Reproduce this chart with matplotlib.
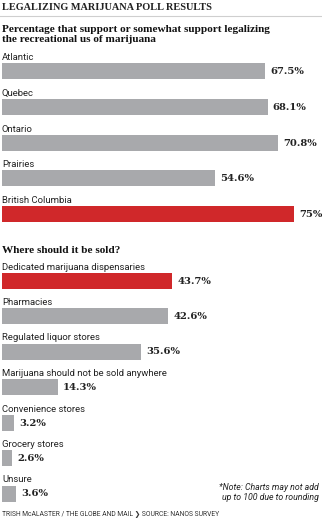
import matplotlib
matplotlib.use("Agg")
import matplotlib.pyplot as plt
from matplotlib.lines import Line2D

# 画布尺寸（像素）
W, H = 322, 518
DPI = 100

# 第一部分：各地区支持率
regions = ["Atlantic", "Quebec", "Ontario", "Prairies", "British Columbia"]
support = [67.5, 68.1, 70.8, 54.6, 75.0]
support_labels = ["67.5%", "68.1%", "70.8%", "54.6%", "75%"]
support_highlight = "British Columbia"

# 第二部分：应在哪里销售
outlets = ["Dedicated marijuana dispensaries", "Pharmacies", "Regulated liquor stores",
           "Marijuana should not be sold anywhere", "Convenience stores",
           "Grocery stores", "Unsure"]
sold = [43.7, 42.6, 35.6, 14.3, 3.2, 2.6, 3.6]
sold_labels = ["43.7%", "42.6%", "35.6%", "14.3%", "3.2%", "2.6%", "3.6%"]
sold_highlight = "Dedicated marijuana dispensaries"

GRAY = "#a8a9ac"
RED = "#d0282a"
PX_PER_PCT = 3.9
SANS = "Roboto"
SERIF = "Liberation Serif"


def fy(px):
    return 1 - px / H


def draw_section(ax, names, values, labels, highlight, row_px):
    n = len(names)
    colors = [RED if name == highlight else GRAY for name in names]
    ax.barh(range(n), values, height=16 / row_px, color=colors, linewidth=0)
    for i, (name, v, lab) in enumerate(zip(names, values, labels)):
        # 类别名在柱子上方
        ax.text(0, i - 8 / row_px - 3 / row_px, name, va="baseline", ha="left",
                fontsize=6.8, family=SANS, color="#222222")
        # 数值在柱子右侧
        ax.text(v + 5 / PX_PER_PCT, i + 0.5 / row_px, lab, va="center", ha="left",
                fontsize=7.2, family="DejaVu Serif", weight="bold", color="#222222")
    ax.set_xlim(0, 318 / PX_PER_PCT)
    ax.set_ylim(n - 0.5, -0.75)
    ax.axis("off")


fig = plt.figure(figsize=(W / DPI, H / DPI), dpi=DPI)

fig.text(2 / W, fy(10), "LEGALIZING MARIJUANA POLL RESULTS", va="baseline",
         fontsize=7.35, family=SERIF, weight="bold", color="#222222")
fig.add_artist(Line2D([0, 1], [fy(16), fy(16)], color="#cfcfcf", linewidth=0.8))

fig.text(2 / W, fy(31.5), "Percentage that support or somewhat support legalizing",
         va="baseline", fontsize=8.1, family=SERIF, weight="bold", color="#111111")
fig.text(2 / W, fy(41.5), "the recreational us of marijuana",
         va="baseline", fontsize=8.1, family=SERIF, weight="bold", color="#111111")

row1 = 35.75
ax1 = fig.add_axes([2 / W, fy(214 + 0.5 * row1), 318 / W, 5.25 * row1 / H])
draw_section(ax1, regions, support, support_labels, support_highlight, row1)

fig.text(2 / W, fy(252.5), "Where should it be sold?", va="baseline",
         fontsize=8.1, family=SERIF, weight="bold", color="#111111")

row2 = 35.5
ax2 = fig.add_axes([2 / W, fy(493.5 + 0.5 * row2), 318 / W, 7.25 * row2 / H])
draw_section(ax2, outlets, sold, sold_labels, sold_highlight, row2)

fig.text(319 / W, fy(490), "*Note: Charts may not add", ha="right", va="baseline",
         fontsize=6.3, family=SANS, style="italic", color="#222222")
fig.text(319 / W, fy(500), "up to 100 due to rounding", ha="right", va="baseline",
         fontsize=6.3, family=SANS, style="italic", color="#222222")

fig.text(2 / W, fy(516.5), "TRISH McALASTER / THE GLOBE AND MAIL \u276f SOURCE: NANOS SURVEY",
         va="baseline", fontsize=4.9, family=[SANS, "DejaVu Sans"], color="#333333")

fig.savefig("out.png", dpi=DPI)
